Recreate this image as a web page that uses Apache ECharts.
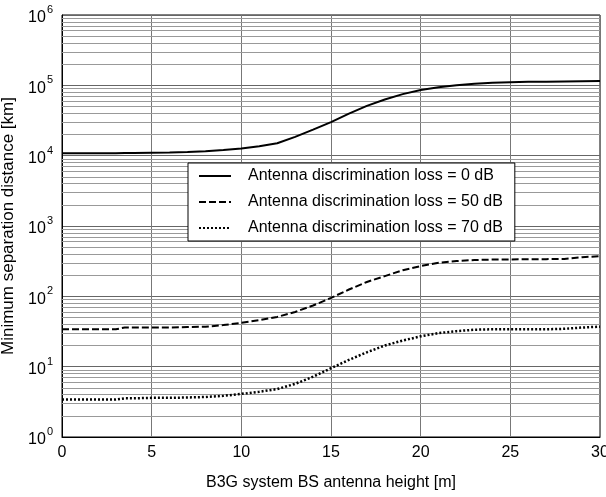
<!DOCTYPE html>
<html>
<head>
<meta charset="utf-8">
<script src="https://cdn.jsdelivr.net/npm/echarts@6/dist/echarts.min.js"></script>
<style>
html,body{margin:0;padding:0;background:#fff;}
#chart{width:606px;height:497px;}
</style>
</head>
<body>
<div id="chart"></div>
<script>
// Antenna height [m]
var heights = [0, 1, 2, 3, 3.5, 4, 5, 6, 7, 8, 9, 10, 11, 12, 13, 14, 15, 16, 17, 18, 19, 20, 21, 22, 23, 24, 25, 26, 27, 28, 29, 30];
// Minimum separation distance [km]
var loss0dB  = [10800, 10800, 10800, 10800, 10900, 10900, 11000, 11100, 11300, 11600, 12000, 12600, 13600, 15000, 18500, 23500, 30000, 39500, 51000, 63000, 75000, 86000, 94000, 100000, 105000, 109000, 111000, 112000, 112000, 113000, 114000, 115000];
var loss50dB = [34, 34, 34, 34, 36, 36, 36, 36, 36.5, 37, 39, 42, 46, 51, 60, 74, 95, 125, 160, 194, 235, 269, 300, 318, 328, 333, 335, 336, 338, 340, 360, 372];
var loss70dB = [3.4, 3.4, 3.4, 3.4, 3.55, 3.55, 3.6, 3.6, 3.65, 3.7, 3.85, 4.1, 4.4, 4.8, 5.7, 7.2, 9.5, 12.5, 16, 20, 23.5, 27, 30, 32, 33.5, 34, 34, 34, 34, 34.5, 36, 37];
var seriesNames = ['Antenna discrimination loss = 0 dB', 'Antenna discrimination loss = 50 dB', 'Antenna discrimination loss = 70 dB'];
var xTicks = [0, 5, 10, 15, 20, 25, 30];
var yDecades = [1, 10, 100, 1000, 10000, 100000, 1000000];
var minorMultipliers = [2, 3, 4, 5, 6, 7, 8, 9];

function pairs(xs, ys) { return xs.map(function (x, i) { return [x, ys[i]]; }); }

var minorLines = [];
for (var d = 0; d < yDecades.length - 1; d++) {
  for (var m = 0; m < minorMultipliers.length; m++) {
    minorLines.push({ yAxis: yDecades[d] * minorMultipliers[m] });
  }
}

var FONT = 'Liberation Sans, Arial, Helvetica, sans-serif';
var chart = echarts.init(document.getElementById('chart'), null, { renderer: 'canvas' });
chart.setOption({
  backgroundColor: '#fff',
  animation: false,
  textStyle: { fontFamily: FONT, color: '#000' },
  grid: { left: 62, right: 6, top: 15, bottom: 60, containLabel: false, outerBoundsMode: 'none',
          show: true, borderColor: '#000', borderWidth: 1, backgroundColor: 'transparent' },
  legend: {
    orient: 'vertical',
    left: 188, top: 163,
    backgroundColor: '#fff', borderColor: '#000', borderWidth: 1, borderRadius: 0,
    padding: [5, 12, 5, 10],
    itemWidth: 32, itemHeight: 14, itemGap: 10,
    icon: 'inherit',
    itemStyle: { opacity: 0 },
    textStyle: { fontFamily: FONT, fontSize: 16, color: '#000', padding: [0, 0, 0, 12] },
    data: seriesNames
  },
  xAxis: {
    type: 'value', min: 0, max: 30, interval: 5,
    name: 'B3G system BS antenna height [m]', nameLocation: 'middle', nameGap: 38,
    nameTextStyle: { fontFamily: FONT, fontSize: 16, color: '#000' },
    axisLine: { show: true, onZero: false, lineStyle: { color: '#000', width: 1 } },
    axisTick: { show: false },
    axisLabel: { fontFamily: FONT, fontSize: 16, color: '#000', margin: 8,
      formatter: function (v) { return xTicks.indexOf(v) >= 0 ? String(v) : ''; } },
    splitLine: { show: true, lineStyle: { color: '#777', width: 1 } }
  },
  yAxis: {
    type: 'log', logBase: 10, min: 1, max: 1000000,
    name: 'Minimum separation distance [km]', nameLocation: 'middle', nameGap: 37,
    nameTextStyle: { fontFamily: FONT, fontSize: 17, color: '#000' },
    axisLine: { show: true, lineStyle: { color: '#000', width: 1 } },
    axisTick: { show: false },
    axisLabel: {
      margin: 9,
      formatter: function (v) { return '{b|10}{s|' + Math.round(Math.log10(v)) + '}'; },
      rich: {
        b: { fontFamily: FONT, fontSize: 16, color: '#000', padding: [6, 0, 0, 0] },
        s: { fontFamily: FONT, fontSize: 11, color: '#000', padding: [0, 0, 10, 1] }
      }
    },
    splitLine: { show: true, lineStyle: { color: '#666', width: 1 } }
  },
  series: [
    {
      name: seriesNames[0], type: 'line', data: pairs(heights, loss0dB),
      symbol: 'none', showSymbol: false,
      lineStyle: { color: '#000', width: 2, type: 'solid' },
      itemStyle: { color: '#000' },
      z: 5,
      markLine: {
        silent: true, symbol: 'none', label: { show: false },
        lineStyle: { color: '#999', width: 1, type: 'solid' },
        emphasis: { disabled: true },
        data: minorLines, z: 1
      }
    },
    {
      name: seriesNames[1], type: 'line', data: pairs(heights, loss50dB),
      symbol: 'none', showSymbol: false,
      lineStyle: { color: '#000', width: 2, type: [7, 3] },
      itemStyle: { color: '#000' }, z: 5
    },
    {
      name: seriesNames[2], type: 'line', data: pairs(heights, loss70dB),
      symbol: 'none', showSymbol: false,
      lineStyle: { color: '#000', width: 2.5, type: [2, 2] },
      itemStyle: { color: '#000' }, z: 5
    }
  ]
});
</script>
</body>
</html>
